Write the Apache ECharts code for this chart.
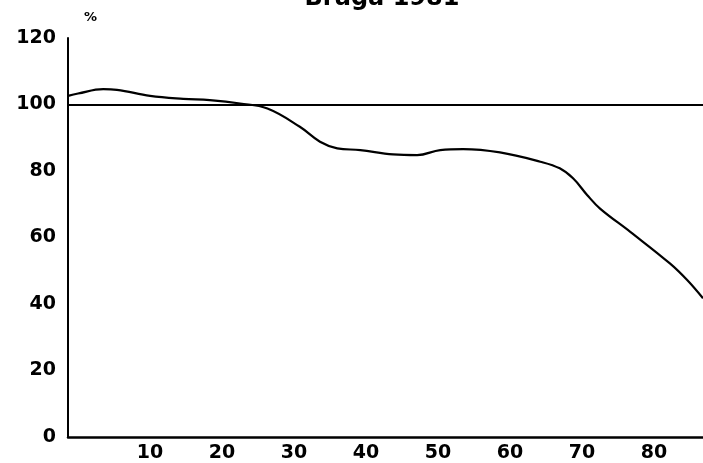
<!DOCTYPE html>
<html>
<head>
<meta charset="utf-8">
<script src="https://cdn.jsdelivr.net/npm/echarts@6/dist/echarts.min.js"></script>
<style>
  html, body { margin: 0; padding: 0; background: #fff; }
  #chart { width: 703px; height: 463px; }
</style>
</head>
<body>
<div id="chart"></div>
<script>
// Age (years) along the curve
var ages = [-1.4, 0, 3.5, 5.4, 10, 14.6, 18.3, 22.5, 26.3, 30.8, 33.6, 36, 39.2, 43.75, 47.1,
            50.3, 53.5, 58.6, 64.2, 66.9, 68.75, 70.7, 72.5, 76.7, 82.2, 84.6, 86.8];
// Percentage at each age
var percents = [102.6, 103.3, 104.6, 104.4, 102.6, 101.7, 101.3, 100.3, 98.8, 93.3, 88.8, 86.8, 86.3, 85.0, 84.8,
                86.3, 86.6, 85.6, 82.8, 80.8, 77.8, 72.8, 68.7, 61.7, 52.2, 47.2, 41.7];
// Axis labels
var xTickLabels = [10, 20, 30, 40, 50, 60, 70, 80];
var referenceLevel = 100;
var titleText = 'Braga 1981';

var points = ages.map(function (a, i) { return [a, percents[i]]; });

var labelFont = {
  color: '#000',
  fontFamily: 'DejaVu Sans',
  fontWeight: 'bold',
  fontSize: 19
};

var chart = echarts.init(document.getElementById('chart'), null, { renderer: 'canvas' });
chart.setOption({
  backgroundColor: '#fff',
  animation: false,
  grid: { left: 68, right: 0, top: 38, bottom: 26, containLabel: false },
  xAxis: {
    type: 'value',
    min: -1.4,
    max: 86.8,
    axisLine: { show: true, onZero: false, lineStyle: { color: '#000', width: 2.5 } },
    axisTick: { show: false },
    splitLine: { show: false },
    axisLabel: Object.assign({ customValues: xTickLabels, margin: 7 }, labelFont)
  },
  yAxis: {
    type: 'value',
    min: 0,
    max: 120,
    interval: 20,
    axisLine: { show: true, onZero: false, lineStyle: { color: '#000', width: 2 } },
    axisTick: { show: false },
    splitLine: { show: false },
    axisLabel: Object.assign({ margin: 12 }, labelFont)
  },
  graphic: [
    {
      type: 'text',
      x: 382,
      y: 11,
      style: {
        text: titleText,
        textAlign: 'center',
        textVerticalAlign: 'bottom',
        fill: '#000',
        font: 'bold 24px "DejaVu Sans"'
      }
    },
    {
      type: 'text',
      x: 84,
      y: 24,
      style: {
        text: '%',
        textAlign: 'left',
        textVerticalAlign: 'bottom',
        fill: '#000',
        font: 'bold 13px "DejaVu Sans"'
      }
    }
  ],
  series: [{
    type: 'line',
    data: points,
    smooth: 0.4,
    showSymbol: false,
    clip: true,
    lineStyle: { color: '#000', width: 2.2 },
    markLine: {
      silent: true,
      symbol: 'none',
      label: { show: false },
      lineStyle: { color: '#000', width: 2, type: 'solid' },
      data: [{ yAxis: referenceLevel }]
    }
  }]
});
</script>
</body>
</html>
